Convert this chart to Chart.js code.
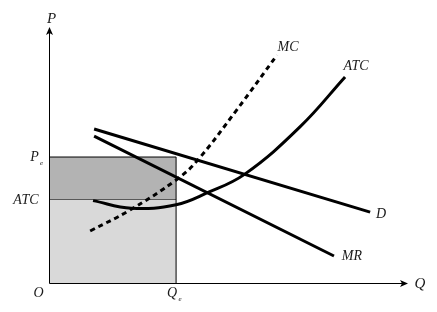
<!DOCTYPE html>
<html>
<head>
<meta charset="utf-8">
<script src="https://cdn.jsdelivr.net/npm/chart.js@4/dist/chart.umd.min.js"></script>
<style>
  html, body { margin: 0; padding: 0; background: #fff; }
  canvas { display: block; }
</style>
</head>
<body>
<canvas id="c" width="437" height="312"></canvas>
<script>
// ---- data (Q on x, P on y) ----
const dQ   = [1.26, 8.97];
const dP   = [6.04, 2.78];
const mrQ  = [1.26, 7.96];
const mrP  = [5.76, 1.06];
const mcQ  = [1.15, 2.26, 3.55, 4.13, 5.24, 6.37];
const mcP  = [2.04, 2.86, 4.04, 4.78, 6.78, 8.94];
const atcQ = [1.23, 2.30, 3.55, 4.41, 5.47, 7.01, 8.27];
const atcP = [3.23, 2.93, 3.07, 3.53, 4.27, 6.12, 8.08];
const Qe = 3.55;      // equilibrium quantity
const Pe = 4.94;      // price
const ATCe = 3.29;    // average total cost at Qe
const axisMaxQ = 10;
const axisMaxP = 10;

const pts = (xs, ys) => xs.map((x, i) => ({x: x, y: ys[i]}));

const curve = (data, extra) => Object.assign({
  data: data, borderColor: '#000', borderWidth: 3, pointRadius: 0,
  fill: false, tension: 0, order: 0
}, extra || {});

const datasets = [
  curve(pts(dQ, dP)),
  curve(pts(mrQ, mrP)),
  curve(pts(mcQ, mcP), {borderDash: [5, 4], tension: 0.4}),
  curve(pts(atcQ, atcP), {tension: 0.4}),
  // profit rectangle (Pe down to ATC)
  {data: [{x: 0, y: Pe}, {x: Qe, y: Pe}], borderColor: '#000', borderWidth: 1,
   pointRadius: 0, fill: '+1', backgroundColor: '#b3b3b3', order: 10},
  // cost rectangle (ATC down to 0)
  {data: [{x: 0, y: ATCe}, {x: Qe, y: ATCe}], borderColor: '#000', borderWidth: 1,
   pointRadius: 0, fill: 'origin', backgroundColor: '#d9d9d9', order: 10},
  // right edge at Qe
  {data: [{x: Qe, y: 0}, {x: Qe, y: Pe}], borderColor: '#000', borderWidth: 1,
   pointRadius: 0, fill: false, order: 9}
];

const serif = '"Liberation Serif", "DejaVu Serif", serif';

const decor = {
  id: 'decor',
  afterDatasetsDraw(chart) {
    const ctx = chart.ctx;
    const xs = chart.scales.x, ys = chart.scales.y;
    const x0 = Math.round(xs.getPixelForValue(0)) + 0.5;
    const y0 = Math.round(ys.getPixelForValue(0)) + 0.5;
    const xTop = ys.getPixelForValue(axisMaxP);
    const xEnd = xs.getPixelForValue(axisMaxQ);
    ctx.save();
    ctx.strokeStyle = '#000';
    ctx.fillStyle = '#000';
    ctx.lineWidth = 1;
    ctx.beginPath();
    ctx.moveTo(x0, y0); ctx.lineTo(x0, xTop + 4);
    ctx.moveTo(x0, y0); ctx.lineTo(xEnd - 4, y0);
    ctx.stroke();
    // arrowheads
    ctx.beginPath();
    ctx.moveTo(x0, xTop - 1);
    ctx.lineTo(x0 - 3.5, xTop + 7);
    ctx.lineTo(x0, xTop + 5);
    ctx.lineTo(x0 + 3.5, xTop + 7);
    ctx.closePath(); ctx.fill();
    ctx.beginPath();
    ctx.moveTo(xEnd + 1, y0);
    ctx.lineTo(xEnd - 7, y0 - 3.5);
    ctx.lineTo(xEnd - 5, y0);
    ctx.lineTo(xEnd - 7, y0 + 3.5);
    ctx.closePath(); ctx.fill();

    // labels
    ctx.fillStyle = '#1a1a1a';
    ctx.textBaseline = 'middle';
    const txt = (s, x, y, size, align) => {
      ctx.font = 'italic ' + (size || 14) + 'px ' + serif;
      ctx.textAlign = align || 'center';
      ctx.fillText(s, x, y);
    };
    txt('P', x0 + 2, xTop - 9, 15);
    txt('Q', xEnd + 13, y0 + 1, 15);
    txt('O', x0 - 11, y0 + 10, 14);
    const qx = xs.getPixelForValue(Qe);
    txt('Q', qx - 4, y0 + 10, 14);
    txt('e', qx + 4, y0 + 16, 7);
    const py = ys.getPixelForValue(Pe);
    txt('P', x0 - 15, py, 14);
    txt('e', x0 - 8, py + 6, 7);
    txt('ATC', x0 - 11, ys.getPixelForValue(ATCe) + 1, 14, 'right');
    const last = (xa, ya) => ({x: xs.getPixelForValue(xa[xa.length - 1]), y: ys.getPixelForValue(ya[ya.length - 1])});
    let p = last(mcQ, mcP);  txt('MC', p.x + 11, p.y - 8, 14);
    p = last(atcQ, atcP);    txt('ATC', p.x + 11, p.y - 11, 14);
    p = last(dQ, dP);        txt('D', p.x + 11, p.y + 2, 14);
    p = last(mrQ, mrP);      txt('MR', p.x + 18, p.y, 14);
    ctx.restore();
  }
};

new Chart(document.getElementById('c'), {
  type: 'line',
  data: {datasets: datasets},
  options: {
    responsive: false,
    devicePixelRatio: 1,
    animation: false,
    layout: {padding: {left: 49, right: 30, top: 28, bottom: 29}},
    scales: {
      x: {type: 'linear', min: 0, max: axisMaxQ, display: false},
      y: {type: 'linear', min: 0, max: axisMaxP, display: false}
    },
    plugins: {legend: {display: false}, tooltip: {enabled: false}},
    elements: {line: {borderCapStyle: 'butt'}}
  },
  plugins: [decor]
});
</script>
</body>
</html>
